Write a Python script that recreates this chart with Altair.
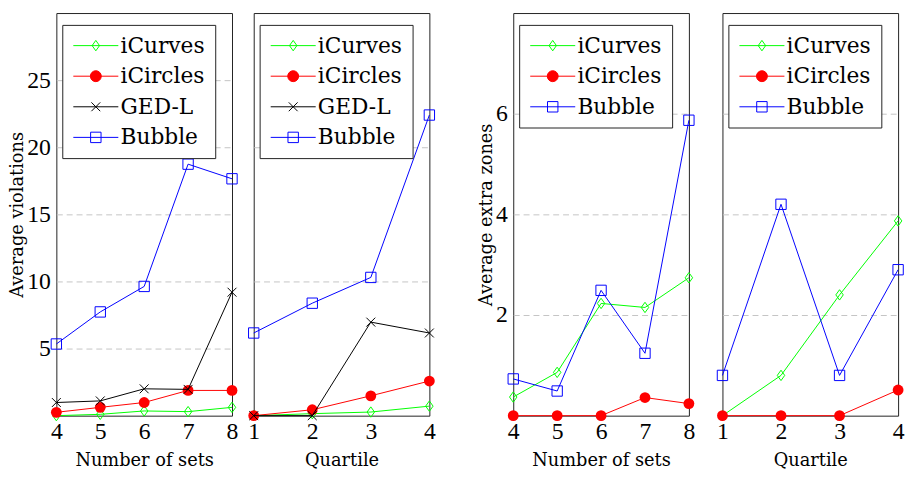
import altair as alt
import pandas as pd

# ---------------- data ----------------
sets_x = [4, 5, 6, 7, 8]
quart_x = [1, 2, 3, 4]

# Average violations by number of sets
viol_sets_icurves = [0.0, 0.1, 0.35, 0.3, 0.62]
viol_sets_icircles = [0.25, 0.62, 0.98, 1.88, 1.88]
viol_sets_gedl = [0.98, 1.1, 2.0, 1.96, 9.2]
viol_sets_bubble = [5.34, 7.73, 9.63, 18.74, 17.65]

# Average violations by quartile
viol_q_icurves = [0.0, 0.15, 0.27, 0.71]
viol_q_icircles = [0.0, 0.44, 1.48, 2.58]
viol_q_gedl = [0.0, 0.0, 6.97, 6.16]
viol_q_bubble = [6.16, 8.38, 10.3, 22.4]

# Average extra zones by number of sets
zone_sets_icurves = [0.37, 0.86, 2.23, 2.15, 2.74]
zone_sets_icircles = [0.0, 0.0, 0.0, 0.36, 0.24]
zone_sets_bubble = [0.73, 0.49, 2.49, 1.24, 5.87]

# Average extra zones by quartile
zone_q_icurves = [0.0, 0.8, 2.4, 3.87]
zone_q_icircles = [0.0, 0.0, 0.0, 0.51]
zone_q_bubble = [0.8, 4.2, 0.8, 2.9]

series_4 = ["iCurves", "iCircles", "GED-L", "Bubble"]
series_3 = ["iCurves", "iCircles", "Bubble"]

# ---------------- styles ----------------
COLORS = {"iCurves": "#00ff00", "iCircles": "#ff0000", "GED-L": "#000000", "Bubble": "#0000ff"}
FILLS = {"iCurves": "transparent", "iCircles": "#ff0000", "GED-L": "transparent", "Bubble": "transparent"}
PLOT_SHAPE = {
    "iCurves": "M0,-1L0.72,0L0,1L-0.72,0Z",
    "iCircles": "circle",
    "GED-L": "M-1,-1L1,1M-1,1L1,-1",
    "Bubble": "square",
}
PLOT_SIZE = {"iCurves": 110, "iCircles": 120, "GED-L": 81, "Bubble": 110}
LINE = "M-2.85,0H2.85"
LEGEND_SHAPE = {
    "iCurves": LINE + "M0,-0.66L0.47,0L0,0.66L-0.47,0Z",
    "iCircles": LINE + "M-0.69,0A0.69,0.69,0,1,0,0.69,0A0.69,0.69,0,1,0,-0.69,0Z",
    "GED-L": LINE + "M-0.56,-0.56L0.56,0.56M-0.56,0.56L0.56,-0.56",
    "Bubble": LINE + "M-0.66,-0.66H0.66V0.66H-0.66Z",
}

SERIF = "DejaVu Serif"
NUM = "Liberation Serif"
W, H = 178, 408
GRID = dict(grid=True, gridDash=[6, 4], gridColor="#c4c4c4", gridWidth=1,
            ticks=False, domain=False)


def make_df(xs, cols):
    rows = []
    for name, vals in cols.items():
        for x, v in zip(xs, vals):
            rows.append({"series": name, "x": x, "y": v})
    return pd.DataFrame(rows)


def panel(df, series, xvals, xtitle, ydom, yvals, ytitle):
    xenc = alt.X(
        "x:Q",
        scale=alt.Scale(domain=[xvals[0], xvals[-1]], nice=False, zero=False),
        axis=alt.Axis(values=xvals, title=xtitle, format="d", labelFlush=False,
                      ticks=False, domain=False, grid=False, labelPadding=4,
                      titlePadding=9),
    )
    if ytitle:
        yaxis = alt.Axis(values=yvals, title=ytitle, labelFlush=False,
                         labelPadding=6, titlePadding=0, **GRID)
    else:
        yaxis = alt.Axis(values=yvals, title=None, labels=False, minExtent=0, **GRID)
    yenc = alt.Y("y:Q", scale=alt.Scale(domain=ydom, nice=False, zero=True), axis=yaxis)

    base = alt.Chart(df)
    layers = []
    for s in series:
        sub = base.transform_filter(alt.datum.series == s)
        layers.append(sub.mark_line(color=COLORS[s], strokeWidth=1).encode(x=xenc, y=yenc))
        layers.append(
            sub.mark_point(shape=PLOT_SHAPE[s], size=PLOT_SIZE[s], filled=(s == "iCircles"),
                           color=COLORS[s], opacity=1, strokeWidth=1).encode(x=xenc, y=yenc)
        )

    leg = alt.Legend(
        title=None, orient="none", legendX=6, legendY=12,
        fillColor="white", strokeColor="#222", padding=10, cornerRadius=0,
        symbolSize=256, symbolStrokeWidth=1, symbolOffset=13, labelOffset=14,
        labelFont=SERIF, labelFontSize=22, labelColor="black", rowPadding=9,
        labelLimit=300, symbolOpacity=1,
    )
    legend_layer = base.transform_filter("false").mark_point(size=256, opacity=1, strokeWidth=1).encode(
        x=xenc, y=yenc,
        stroke=alt.Stroke("series:N", scale=alt.Scale(domain=series, range=[COLORS[s] for s in series]), legend=leg),
        fill=alt.Fill("series:N", scale=alt.Scale(domain=series, range=[FILLS[s] for s in series]), legend=leg),
        shape=alt.Shape("series:N", scale=alt.Scale(domain=series, range=[LEGEND_SHAPE[s] for s in series]), legend=leg),
    )
    layers.append(legend_layer)
    return alt.layer(*layers).properties(width=W, height=H)


df1 = make_df(sets_x, {"iCurves": viol_sets_icurves, "iCircles": viol_sets_icircles,
                       "GED-L": viol_sets_gedl, "Bubble": viol_sets_bubble})
df2 = make_df(quart_x, {"iCurves": viol_q_icurves, "iCircles": viol_q_icircles,
                        "GED-L": viol_q_gedl, "Bubble": viol_q_bubble})
df3 = make_df(sets_x, {"iCurves": zone_sets_icurves, "iCircles": zone_sets_icircles,
                       "Bubble": zone_sets_bubble})
df4 = make_df(quart_x, {"iCurves": zone_q_icurves, "iCircles": zone_q_icircles,
                        "Bubble": zone_q_bubble})

p1 = panel(df1, series_4, sets_x, "Number of sets", [0, 30], [5, 10, 15, 20, 25], "Average violations")
p2 = panel(df2, series_4, quart_x, "Quartile", [0, 30], [10, 20], None)
p3 = panel(df3, series_3, sets_x, "Number of sets", [0, 8], [2, 4, 6], "Average extra zones")
p4 = panel(df4, series_3, quart_x, "Quartile", [0, 8], [2, 4, 6], None)


def indep(c):
    return c.resolve_scale(stroke="independent", fill="independent", shape="independent") \
            .resolve_legend(stroke="independent", fill="independent", shape="independent")


left = indep(alt.hconcat(p1, p2, spacing=6))
right = indep(alt.hconcat(p3, p4, spacing=18))
chart = indep(alt.hconcat(left, right, spacing=40)).properties(
    padding={"left": 0, "top": 1, "right": 0, "bottom": 0}
).configure_view(stroke="#222", strokeWidth=1).configure_axis(
    labelFont=NUM, labelFontSize=24, labelColor="black",
    titleFont=SERIF, titleFontSize=18, titleFontWeight="normal", titleColor="black",
)

chart.save("out.html", embed_options={"renderer": "svg", "actions": False})
